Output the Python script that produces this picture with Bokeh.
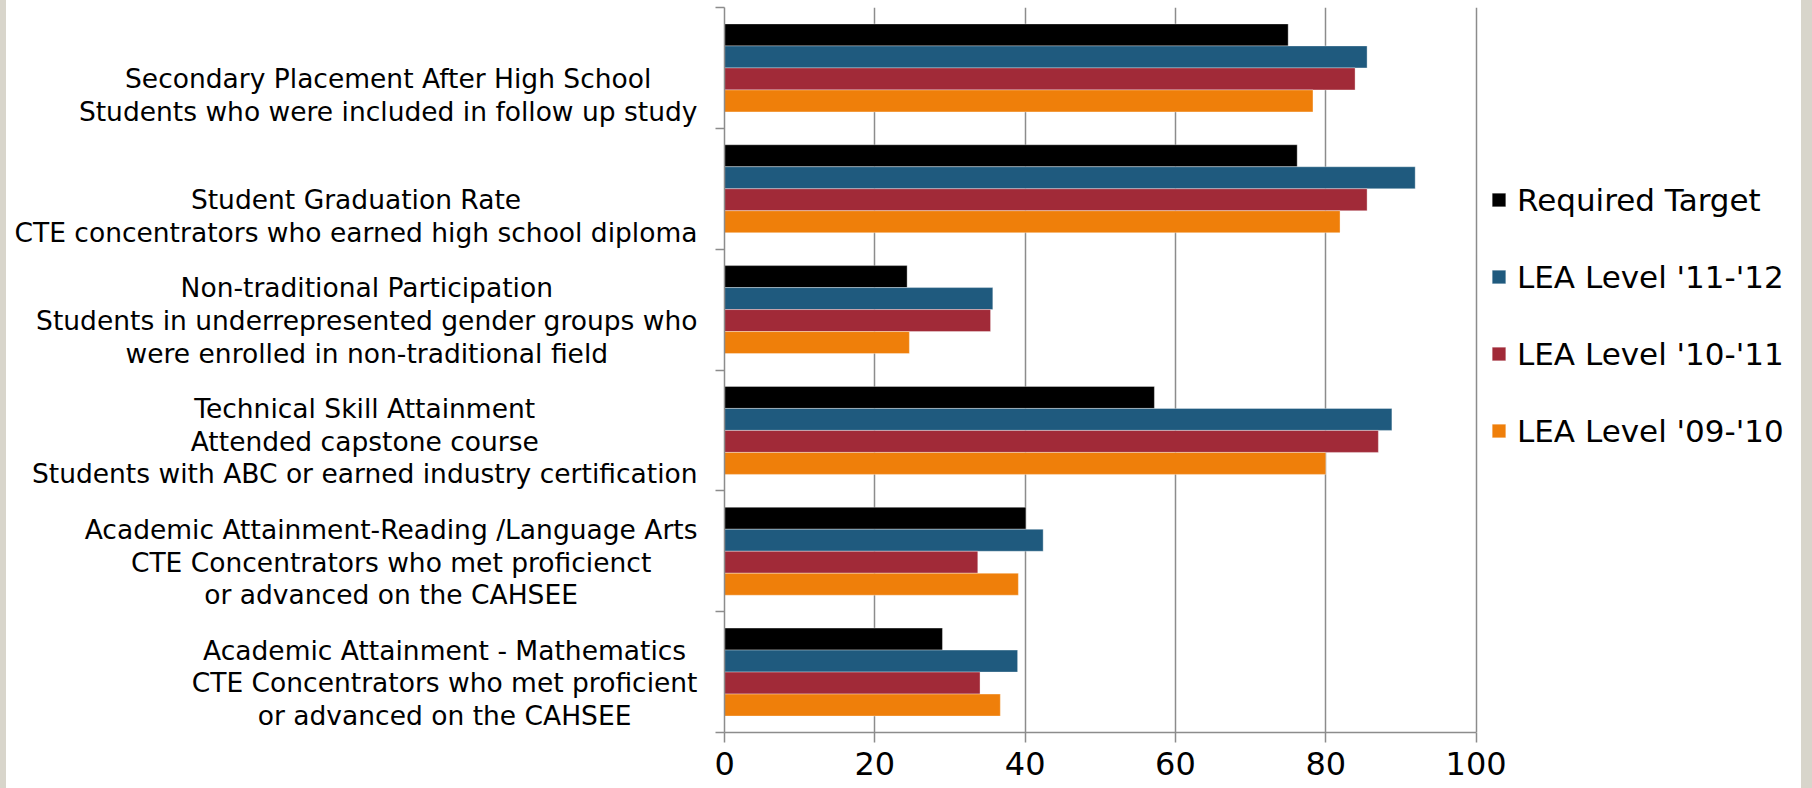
from bokeh.plotting import figure
from bokeh.layouts import row
from bokeh.models import (Range1d, LinearAxis, FixedTicker, Legend, LegendItem,
                          ColumnDataSource, CustomJSTickFormatter, Spacer)
from bokeh.transform import dodge
from bokeh.embed import file_html
from bokeh.resources import INLINE
from bokeh.core.properties import value

categories = [
    "Secondary Placement After High School\nStudents who were included in follow up study",
    "Student Graduation Rate\nCTE concentrators who earned high school diploma",
    "Non-traditional Participation\nStudents in underrepresented gender groups who\nwere enrolled in non-traditional field",
    "Technical Skill Attainment\nAttended capstone course\nStudents with ABC or earned industry certification",
    "Academic Attainment-Reading /Language Arts\nCTE Concentrators who met proficienct\nor advanced on the CAHSEE",
    "Academic Attainment - Mathematics\nCTE Concentrators who met proficient\nor advanced on the CAHSEE",
]
series_names = ["Required Target", "LEA Level '11-'12", "LEA Level '10-'11", "LEA Level '09-'10"]
required_target = [75.0, 76.2, 24.3, 57.2, 40.1, 29.0]
lea_11_12 = [85.5, 91.9, 35.7, 88.8, 42.4, 39.0]
lea_10_11 = [83.9, 85.5, 35.4, 87.0, 33.7, 34.0]
lea_09_10 = [78.3, 81.9, 24.6, 80.0, 39.1, 36.7]
x_ticks = [0, 20, 40, 60, 80, 100]

colors = ["#000000", "#1f5a7e", "#a12a38", "#ef7f0a"]
GRAY = "#8c8c8c"
FRAME_GRAY = "#d8d5cb"
FONT = "DejaVu Sans"

n = len(categories)
# category slot index, first category at the top
ypos = [n - i - 0.5 for i in range(n)]
# labels: two-line labels carry an empty first line, as in the original
label_text = [("\n" + c) if c.count("\n") == 1 else c for c in categories]
label_y = [y - 0.09 for y in ypos]

src = ColumnDataSource(dict(cat=categories, ypos=ypos, s0=required_target, s1=lea_11_12,
                            s2=lea_10_11, s3=lea_09_10))
lsrc = ColumnDataSource(dict(text=label_text, y=label_y, x=[691] * n))

yr = Range1d(0, n)

# ---------- label panel ----------
pl = figure(width=708, height=788, output_backend="svg", toolbar_location=None,
            y_range=yr, x_range=Range1d(0, 708), x_axis_location=None, y_axis_location=None,
            min_border_left=0, min_border_right=0, min_border_top=7, min_border_bottom=56)
pl.outline_line_color = None
pl.xgrid.grid_line_color = None
pl.ygrid.grid_line_color = None
pl.text(x="x", y="y", text="text", source=lsrc, anchor="center_right", text_align="center",
        text_font=value(FONT), text_font_size="26.5px", text_color="black",
        text_line_height=1.05)

# ---------- chart ----------
p = figure(width=1087, height=788, output_backend="svg", toolbar_location=None,
           y_range=yr, x_range=Range1d(0, 143.3),
           y_axis_location=None, min_border_left=10, min_border_right=0,
           min_border_top=7, min_border_bottom=56)
p.outline_line_color = None

bar_h = 0.182
offsets = [1.5 * bar_h, 0.5 * bar_h, -0.5 * bar_h, -1.5 * bar_h]
items = []
for i, (col, name) in enumerate(zip(["s0", "s1", "s2", "s3"], series_names)):
    r = p.hbar(y=dodge("ypos", offsets[i]), right=col, left=0, height=bar_h,
               source=src, fill_color=colors[i], line_color="white", line_width=0.7,
               line_alpha=0.5)
    items.append(LegendItem(label=name, renderers=[r]))

xa = p.xaxis[0]
xa.ticker = FixedTicker(ticks=x_ticks)
xa.bounds = (0, 100)
xa.axis_line_color = GRAY
xa.axis_line_width = 1.5
xa.major_tick_line_color = GRAY
xa.major_tick_line_width = 1.5
xa.major_tick_in = 0
xa.major_tick_out = 10
xa.minor_tick_line_color = None
xa.major_label_text_font = FONT
xa.major_label_text_font_size = "32px"
xa.major_label_text_color = "black"
xa.major_label_standoff = 9

p.xgrid.ticker = FixedTicker(ticks=x_ticks)
p.xgrid.grid_line_color = GRAY
p.xgrid.grid_line_width = 1.5
p.ygrid.grid_line_color = None

# left axis with ticks at category boundaries
ta = LinearAxis(ticker=FixedTicker(ticks=list(range(n + 1))),
                formatter=CustomJSTickFormatter(code="return ''"))
ta.axis_line_color = GRAY
ta.axis_line_width = 1.5
ta.major_tick_line_color = GRAY
ta.major_tick_line_width = 1.5
ta.major_tick_in = 0
ta.major_tick_out = 9
ta.minor_tick_line_color = None
ta.major_label_standoff = 0
ta.major_label_text_font_size = "1px"
p.add_layout(ta, "left")

legend = Legend(items=items, location=(766, 263), orientation="vertical",
                label_text_font=FONT, label_text_font_size="31px", label_text_color="black",
                glyph_width=17, glyph_height=17, label_standoff=10, label_height=77,
                spacing=0, padding=0, margin=0, border_line_color=None,
                background_fill_alpha=0)
p.add_layout(legend, "center")

sp_l = Spacer(width=6, height=788, styles={"background-color": FRAME_GRAY})
sp_r = Spacer(width=11, height=788, styles={"background-color": FRAME_GRAY})
layout = row(sp_l, pl, p, sp_r, spacing=0)

open("out.html", "w").write(file_html(layout, INLINE))
